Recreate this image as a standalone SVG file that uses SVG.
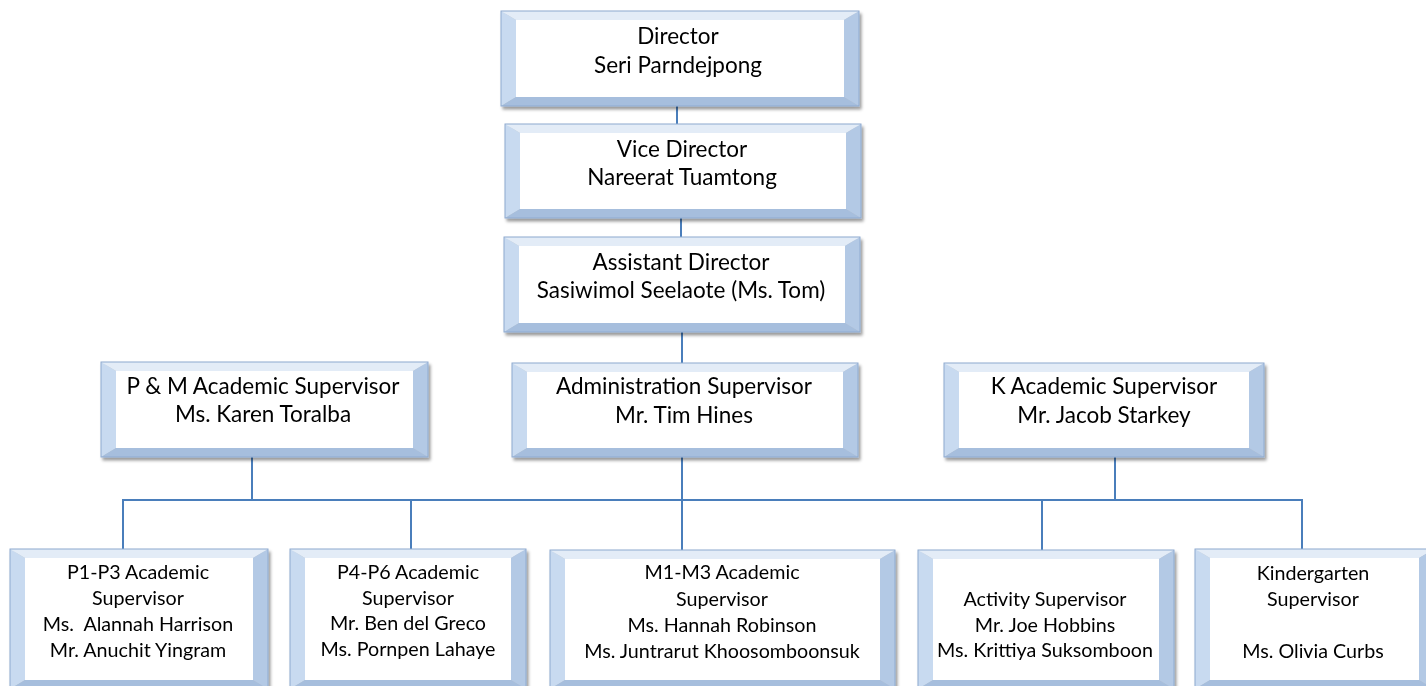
<svg xmlns="http://www.w3.org/2000/svg" width="1426" height="686" viewBox="0 0 1426 686">
<style>
.bt{fill:#e3ecf7}
.bl{fill:#c8daf0}
.br{fill:#b3c9e5}
.bb{fill:#a6bedd}
.in{fill:#ffffff}
.edge{fill:none;stroke:#8eaad0;stroke-width:1}
.t{font-family:Lato,"Liberation Sans",sans-serif;font-size:22.5px;fill:#000;text-anchor:middle}
.s{font-family:Lato,"Liberation Sans",sans-serif;font-size:19.7px;fill:#000;text-anchor:middle}
.c{stroke:#4a7ebb;stroke-width:2;fill:none}
</style>
<defs>
<filter id="sh" x="-5%" y="-10%" width="110%" height="125%">
<feDropShadow dx="2" dy="3" stdDeviation="1.6" flood-color="#000" flood-opacity="0.4"/>
</filter>
</defs>
<rect width="1426" height="686" fill="#fff"/>
<g id="connectors">
<line class="c" x1="677" y1="106" x2="677" y2="124"/>
<line class="c" x1="681" y1="218" x2="681" y2="237"/>
<line class="c" x1="682" y1="332" x2="682" y2="363"/>
<line class="c" x1="682" y1="457" x2="682" y2="550"/>
<line class="c" x1="252" y1="457" x2="252" y2="500"/>
<line class="c" x1="1115" y1="457" x2="1115" y2="500"/>
<line class="c" x1="122" y1="500" x2="1303" y2="500"/>
<line class="c" x1="123" y1="500" x2="123" y2="549"/>
<line class="c" x1="411" y1="500" x2="411" y2="549"/>
<line class="c" x1="1042" y1="500" x2="1042" y2="550"/>
<line class="c" x1="1302" y1="500" x2="1302" y2="549"/>
</g>
<g id="director" filter="url(#sh)">
<polygon class="bt" points="501,11 859,11 844,20 516,20"/>
<polygon class="bl" points="501,11 516,20 516,97 501,106"/>
<polygon class="br" points="859,11 859,106 844,97 844,20"/>
<polygon class="bb" points="501,106 859,106 844,97 516,97"/>
<rect class="in" x="516" y="20" width="328" height="77"/>
<rect class="edge" x="501" y="11" width="358" height="95"/>
<text class="t" x="678" y="44">Director</text>
<text class="t" x="678" y="73">Seri Parndejpong</text>
</g>
<g id="vice" filter="url(#sh)">
<polygon class="bt" points="505,124 861,124 846,133 520,133"/>
<polygon class="bl" points="505,124 520,133 520,209 505,218"/>
<polygon class="br" points="861,124 861,218 846,209 846,133"/>
<polygon class="bb" points="505,218 861,218 846,209 520,209"/>
<rect class="in" x="520" y="133" width="326" height="76"/>
<rect class="edge" x="505" y="124" width="356" height="94"/>
<text class="t" x="682" y="157">Vice Director</text>
<text class="t" x="682" y="185">Nareerat Tuamtong</text>
</g>
<g id="assistant" filter="url(#sh)">
<polygon class="bt" points="504,237 860,237 845,246 519,246"/>
<polygon class="bl" points="504,237 519,246 519,323 504,332"/>
<polygon class="br" points="860,237 860,332 845,323 845,246"/>
<polygon class="bb" points="504,332 860,332 845,323 519,323"/>
<rect class="in" x="519" y="246" width="326" height="77"/>
<rect class="edge" x="504" y="237" width="356" height="95"/>
<text class="t" x="681" y="270">Assistant Director</text>
<text class="t" x="681" y="298">Sasiwimol Seelaote (Ms. Tom)</text>
</g>
<g id="admin" filter="url(#sh)">
<polygon class="bt" points="512,363 858,363 843,372 527,372"/>
<polygon class="bl" points="512,363 527,372 527,448 512,457"/>
<polygon class="br" points="858,363 858,457 843,448 843,372"/>
<polygon class="bb" points="512,457 858,457 843,448 527,448"/>
<rect class="in" x="527" y="372" width="316" height="76"/>
<rect class="edge" x="512" y="363" width="346" height="94"/>
<text class="t" x="684" y="394">Administration Supervisor</text>
<text class="t" x="684" y="423">Mr. Tim Hines</text>
</g>
<g id="pm" filter="url(#sh)">
<polygon class="bt" points="101,362 428,362 413,371 116,371"/>
<polygon class="bl" points="101,362 116,371 116,448 101,457"/>
<polygon class="br" points="428,362 428,457 413,448 413,371"/>
<polygon class="bb" points="101,457 428,457 413,448 116,448"/>
<rect class="in" x="116" y="371" width="297" height="77"/>
<rect class="edge" x="101" y="362" width="327" height="95"/>
<text class="t" x="263" y="394">P &amp; M Academic Supervisor</text>
<text class="t" x="263" y="422">Ms. Karen Toralba</text>
</g>
<g id="kacademic" filter="url(#sh)">
<polygon class="bt" points="944,363 1264,363 1249,372 959,372"/>
<polygon class="bl" points="944,363 959,372 959,448 944,457"/>
<polygon class="br" points="1264,363 1264,457 1249,448 1249,372"/>
<polygon class="bb" points="944,457 1264,457 1249,448 959,448"/>
<rect class="in" x="959" y="372" width="290" height="76"/>
<rect class="edge" x="944" y="363" width="320" height="94"/>
<text class="t" x="1104" y="394">K Academic Supervisor</text>
<text class="t" x="1104" y="423">Mr. Jacob Starkey</text>
</g>
<g id="p1p3" filter="url(#sh)">
<polygon class="bt" points="10,549 268,549 253,558 25,558"/>
<polygon class="bl" points="10,549 25,558 25,680 10,689"/>
<polygon class="br" points="268,549 268,689 253,680 253,558"/>
<polygon class="bb" points="10,689 268,689 253,680 25,680"/>
<rect class="in" x="25" y="558" width="228" height="122"/>
<rect class="edge" x="10" y="549" width="258" height="140"/>
<text class="s" x="138" y="579">P1-P3 Academic</text>
<text class="s" x="138" y="605">Supervisor</text>
<text class="s" x="138" y="631" xml:space="preserve">Ms.  Alannah Harrison</text>
<text class="s" x="138" y="657">Mr. Anuchit Yingram</text>
</g>
<g id="p4p6" filter="url(#sh)">
<polygon class="bt" points="290,549 526,549 511,558 305,558"/>
<polygon class="bl" points="290,549 305,558 305,680 290,689"/>
<polygon class="br" points="526,549 526,689 511,680 511,558"/>
<polygon class="bb" points="290,689 526,689 511,680 305,680"/>
<rect class="in" x="305" y="558" width="206" height="122"/>
<rect class="edge" x="290" y="549" width="236" height="140"/>
<text class="s" x="408" y="579">P4-P6 Academic</text>
<text class="s" x="408" y="605">Supervisor</text>
<text class="s" x="408" y="630">Mr. Ben del Greco</text>
<text class="s" x="408" y="656">Ms. Pornpen Lahaye</text>
</g>
<g id="m1m3" filter="url(#sh)">
<polygon class="bt" points="550,550 895,550 880,559 565,559"/>
<polygon class="bl" points="550,550 565,559 565,680 550,689"/>
<polygon class="br" points="895,550 895,689 880,680 880,559"/>
<polygon class="bb" points="550,689 895,689 880,680 565,680"/>
<rect class="in" x="565" y="559" width="315" height="121"/>
<rect class="edge" x="550" y="550" width="345" height="139"/>
<text class="s" x="722" y="579">M1-M3 Academic</text>
<text class="s" x="722" y="606">Supervisor</text>
<text class="s" x="722" y="632">Ms. Hannah Robinson</text>
<text class="s" x="722" y="658">Ms. Juntrarut Khoosomboonsuk</text>
</g>
<g id="activity" filter="url(#sh)">
<polygon class="bt" points="918,550 1174,550 1159,559 933,559"/>
<polygon class="bl" points="918,550 933,559 933,680 918,689"/>
<polygon class="br" points="1174,550 1174,689 1159,680 1159,559"/>
<polygon class="bb" points="918,689 1174,689 1159,680 933,680"/>
<rect class="in" x="933" y="559" width="226" height="121"/>
<rect class="edge" x="918" y="550" width="256" height="139"/>
<text class="s" x="1045" y="606">Activity Supervisor</text>
<text class="s" x="1045" y="632">Mr. Joe Hobbins</text>
<text class="s" x="1045" y="657">Ms. Krittiya Suksomboon</text>
</g>
<g id="kindergarten" filter="url(#sh)">
<polygon class="bt" points="1195,549 1434,549 1419,558 1210,558"/>
<polygon class="bl" points="1195,549 1210,558 1210,680 1195,689"/>
<polygon class="br" points="1434,549 1434,689 1419,680 1419,558"/>
<polygon class="bb" points="1195,689 1434,689 1419,680 1210,680"/>
<rect class="in" x="1210" y="558" width="209" height="122"/>
<rect class="edge" x="1195" y="549" width="239" height="140"/>
<text class="s" x="1313" y="580">Kindergarten</text>
<text class="s" x="1313" y="606">Supervisor</text>
<text class="s" x="1313" y="658">Ms. Olivia Curbs</text>
</g>
</svg>
